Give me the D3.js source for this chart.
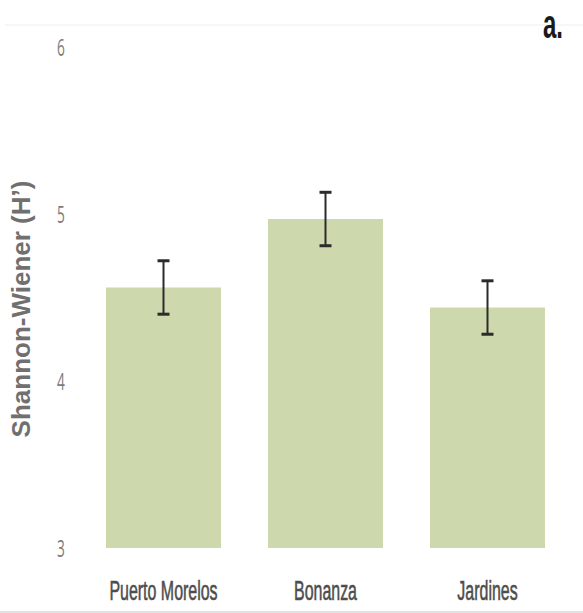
<!DOCTYPE html>
<html><head><meta charset="utf-8">
<script src="https://cdn.jsdelivr.net/npm/d3@7"></script>
<style>html,body{margin:0;padding:0;background:#fff;}</style>
</head><body>
<script>
const categories = ["Puerto Morelos", "Bonanza", "Jardines"];
const means = [4.56, 4.97, 4.44];
const errors = [0.16, 0.16, 0.16];
const yTicks = [3, 4, 5, 6];
const yTitle = "Shannon-Wiener (H’)";
const panelLabel = "a.";

const W = 583, H = 613, SX = 0.57;
const svg = d3.select("body").append("svg").attr("width", W).attr("height", H);

const x = d3.scaleBand().domain(categories).range([82.5, 568.5]).paddingInner(0.29).paddingOuter(0.145);
const y = d3.scaleLinear().domain([3, 6]).range([548, 47]);

// frame lines
svg.append("line").attr("x1", 5).attr("x2", W).attr("y1", 25).attr("y2", 25).attr("stroke", "#efefef").attr("stroke-width", 1);
svg.append("line").attr("x1", 0).attr("x2", W).attr("y1", 612).attr("y2", 612).attr("stroke", "#d9d9d9").attr("stroke-width", 1.5);

// bars
svg.selectAll("rect.bar").data(categories).join("rect")
  .attr("class", "bar")
  .attr("x", d => x(d)).attr("width", x.bandwidth())
  .attr("y", (d, i) => y(means[i])).attr("height", (d, i) => y(3) - y(means[i]))
  .attr("fill", "#cdd9ac");

// error bars
const eg = svg.append("g").attr("stroke", "#2b2b2b");
categories.forEach((c, i) => {
  const cx = x(c) + x.bandwidth() / 2;
  const hi = y(means[i] + errors[i]), lo = y(means[i] - errors[i]);
  eg.append("line").attr("x1", cx).attr("x2", cx).attr("y1", hi).attr("y2", lo).attr("stroke-width", 2);
  [hi, lo].forEach(v => eg.append("line").attr("x1", cx - 6).attr("x2", cx + 6).attr("y1", v).attr("y2", v).attr("stroke-width", 3));
});

// y tick labels
svg.selectAll("text.ytick").data(yTicks).join("text")
  .attr("class", "ytick")
  .attr("transform", d => `translate(61,${y(d)}) scale(${SX},1)`)
  .attr("text-anchor", "middle").attr("dy", "0.36em")
  .attr("font-family", "'Open Sans', sans-serif").attr("font-weight", 400)
  .attr("font-size", 24).attr("fill", "#7c7c7c")
  .text(d => d);

// category labels
svg.selectAll("text.cat").data(categories).join("text")
  .attr("class", "cat")
  .attr("transform", d => `translate(${x(d) + x.bandwidth() / 2},600) scale(${SX},1)`)
  .attr("text-anchor", "middle")
  .attr("font-family", "'Liberation Sans', Arial, sans-serif")
  .attr("font-size", 28).attr("fill", "#4d4d4d")
  .attr("stroke", "#4d4d4d").attr("stroke-width", 0.6)
  .text(d => d);

// y title
svg.append("text")
  .attr("transform", "translate(30,309) rotate(-90)")
  .attr("text-anchor", "middle")
  .attr("font-family", "'Liberation Sans', Arial, sans-serif").attr("font-weight", "bold")
  .attr("font-size", 26).attr("fill", "#707070")
  .text(yTitle);

// panel label
svg.append("text")
  .attr("transform", `translate(543,38) scale(${SX + 0.03},1)`)
  .attr("font-family", "'Liberation Sans', Arial, sans-serif").attr("font-weight", "bold")
  .attr("font-size", 40).attr("fill", "#1a1a1a")
  .text(panelLabel);
</script>
</body></html>
